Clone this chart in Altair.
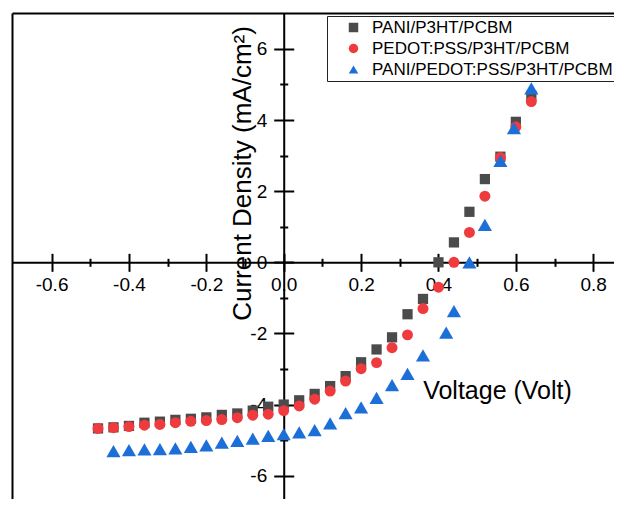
import altair as alt
import pandas as pd

# ---------------- data ----------------
series_names = ["PANI/P3HT/PCBM", "PEDOT:PSS/P3HT/PCBM", "PANI/PEDOT:PSS/P3HT/PCBM"]
series_colors = ["#4b4b4b", "#ef3b3d", "#1d6fd8"]
series_shapes = ["square", "circle", "triangle-up"]
series_sizes = [105, 120, 200]

pani_v = [-0.48, -0.44, -0.40, -0.36, -0.32, -0.28, -0.24, -0.20, -0.16, -0.12,
          -0.08, -0.04, 0.00, 0.04, 0.08, 0.12, 0.16, 0.20, 0.24, 0.28,
          0.32, 0.36, 0.40, 0.44, 0.48, 0.52, 0.56, 0.60, 0.64]
pani_j = [-4.67, -4.64, -4.60, -4.51, -4.48, -4.43, -4.40, -4.36, -4.29, -4.25,
          -4.17, -4.06, -4.00, -3.88, -3.70, -3.48, -3.20, -2.81, -2.45, -2.11,
          -1.46, -1.03, 0.00, 0.56, 1.42, 2.34, 2.97, 3.95, 4.68]

pedot_v = [-0.48, -0.44, -0.40, -0.36, -0.32, -0.28, -0.24, -0.20, -0.16, -0.12,
           -0.08, -0.04, 0.00, 0.04, 0.08, 0.12, 0.16, 0.20, 0.24, 0.28,
           0.32, 0.36, 0.40, 0.44, 0.48, 0.52, 0.56, 0.60, 0.64]
pedot_j = [-4.67, -4.65, -4.62, -4.58, -4.56, -4.51, -4.47, -4.45, -4.42, -4.37,
           -4.30, -4.27, -4.17, -4.04, -3.85, -3.62, -3.34, -2.99, -2.82, -2.40,
           -2.04, -1.30, -0.70, 0.00, 0.84, 1.86, 2.95, 3.81, 4.52]

both_v = [-0.44, -0.40, -0.36, -0.32, -0.28, -0.24, -0.20, -0.16, -0.12, -0.08,
          -0.04, 0.00, 0.04, 0.08, 0.12, 0.16, 0.20, 0.24, 0.28, 0.32,
          0.36, 0.42, 0.44, 0.48, 0.52, 0.56, 0.595, 0.64]
both_j = [-5.31, -5.28, -5.26, -5.25, -5.23, -5.19, -5.15, -5.07, -5.02, -4.96,
          -4.88, -4.83, -4.78, -4.72, -4.53, -4.24, -4.08, -3.81, -3.45, -3.14,
          -2.62, -1.98, -1.37, 0.00, 1.05, 2.85, 3.77, 4.89]

x_major = [-0.6, -0.4, -0.2, 0.0, 0.2, 0.4, 0.6, 0.8]
x_minor = [-0.5, -0.3, -0.1, 0.1, 0.3, 0.5, 0.7]
y_major = [-6, -4, -2, 0, 2, 4, 6]
y_minor = [-5, -3, -1, 1, 3, 5]

x_title = "Voltage (Volt)"
y_title = "Current Density (mA/cm\u00b2)"

# ---------------- table ----------------
rows = []
for name, vs, js in zip(series_names, [pani_v, pedot_v, both_v], [pani_j, pedot_j, both_j]):
    for v, j in zip(vs, js):
        rows.append({"series": name, "V": v, "J": j})
df = pd.DataFrame(rows)

# ---------------- layout ----------------
FONT = "Liberation Sans"
W, H = 602, 486
x_dom = [-0.7023, 0.8537]
y_dom = [-6.655, 7.01]
x0 = (0 - x_dom[0]) / (x_dom[1] - x_dom[0]) * W      # px of V=0 from left
y0 = (y_dom[1] - 0) / (y_dom[1] - y_dom[0]) * H      # px of J=0 from top

xs = alt.Scale(domain=x_dom, nice=False, zero=False)
ys = alt.Scale(domain=y_dom, nice=False, zero=False)

MINUS_FIX_X = "replace(format(datum.value, '.1f'), '\u2212', '-')"
MINUS_FIX_Y = "replace(format(datum.value, 'd'), '\u2212', '-')"

common = dict(grid=False, tickColor="black", domainColor="black", labelColor="black",
              labelFont=FONT, titleFont=FONT, titleColor="black", titleFontWeight="normal")

ax_x_main = alt.Axis(orient="bottom", offset=-(H - y0), values=x_major, labelExpr=MINUS_FIX_X,
                     tickSize=9, tickWidth=2, domain=True, domainWidth=2,
                     labelFontSize=19, labelPadding=4, labelFlush=False, labelOverlap=False,
                     title=x_title, titleFontSize=25, titleX=485, titleY=128,
                     titleBaseline="middle", titleAlign="center", **common)
ax_y_main = alt.Axis(orient="left", offset=-x0, values=y_major, labelExpr=MINUS_FIX_Y,
                     tickSize=10, tickWidth=2, domain=True, domainWidth=2,
                     labelFontSize=19, labelPadding=7, labelFlush=False, labelOverlap=False,
                     title=y_title, titleFontSize=26, titleAngle=270, titleX=-41.5, titleY=160,
                     titleBaseline="middle", titleAlign="center", **common)

ax_x_cross = alt.Axis(orient="top", offset=-y0, values=x_major, tickSize=9, tickWidth=2,
                      labels=False, domain=False, title=None, **common)
ax_y_cross = alt.Axis(orient="right", offset=-(W - x0), values=y_major, tickSize=10, tickWidth=2,
                      labels=False, domain=False, title=None, **common)

ax_x_min_b = alt.Axis(orient="bottom", offset=-(H - y0), values=x_minor, tickSize=4, tickWidth=2,
                      labels=False, domain=False, title=None, **common)
ax_y_min_l = alt.Axis(orient="left", offset=-x0, values=y_minor, tickSize=4, tickWidth=2,
                      labels=False, domain=False, title=None, **common)
ax_x_min_t = alt.Axis(orient="top", offset=-y0, values=x_minor, tickSize=4, tickWidth=2,
                      labels=False, domain=False, title=None, **common)
ax_y_min_r = alt.Axis(orient="right", offset=-(W - x0), values=y_minor, tickSize=4, tickWidth=2,
                      labels=False, domain=False, title=None, **common)

ax_x_frame = alt.Axis(orient="top", offset=0, ticks=False, labels=False, domain=True,
                      domainWidth=2, title=None, **common)
ax_y_frame = alt.Axis(orient="left", offset=0, ticks=False, labels=False, domain=True,
                      domainWidth=2, title=None, **common)

legend = alt.Legend(title=None, orient="none", legendX=315, legendY=3, direction="vertical",
                    labelFont=FONT, labelFontSize=17, labelColor="black", labelLimit=400,
                    strokeColor="#222222", fillColor="white", padding=3, rowPadding=3,
                    symbolOffset=15, labelOffset=10, symbolSize=90, symbolStrokeWidth=0)

color_scale = alt.Scale(domain=series_names, range=series_colors)
shape_scale = alt.Scale(domain=series_names, range=series_shapes)


def ghost(xaxis, yaxis):
    return alt.Chart(df).mark_point(opacity=0).encode(
        x=alt.X("V:Q", scale=xs, axis=xaxis),
        y=alt.Y("J:Q", scale=ys, axis=yaxis),
    )


def series_layer(i, with_axes):
    xa = ax_x_main if with_axes else None
    ya = ax_y_main if with_axes else None
    return alt.Chart(df).transform_filter(
        alt.datum.series == series_names[i]
    ).mark_point(filled=True, opacity=1, strokeWidth=0, size=series_sizes[i]).encode(
        x=alt.X("V:Q", scale=xs, axis=xa),
        y=alt.Y("J:Q", scale=ys, axis=ya),
        color=alt.Color("series:N", scale=color_scale, legend=legend),
        shape=alt.Shape("series:N", scale=shape_scale, legend=legend),
    )


chart = alt.layer(
    ghost(ax_x_frame, ax_y_frame),
    ghost(ax_x_cross, ax_y_cross),
    ghost(ax_x_min_b, ax_y_min_l),
    ghost(ax_x_min_t, ax_y_min_r),
    series_layer(0, True),
    series_layer(1, False),
    series_layer(2, False),
).resolve_axis(x="independent", y="independent").properties(
    width=W, height=H,
    padding={"left": 4, "top": 5, "right": 0, "bottom": 0},
    autosize=alt.AutoSizeParams(type="none"),
    background="white",
).configure_view(stroke=None)

chart.save("out.html", embed_options={"renderer": "svg", "actions": False})
